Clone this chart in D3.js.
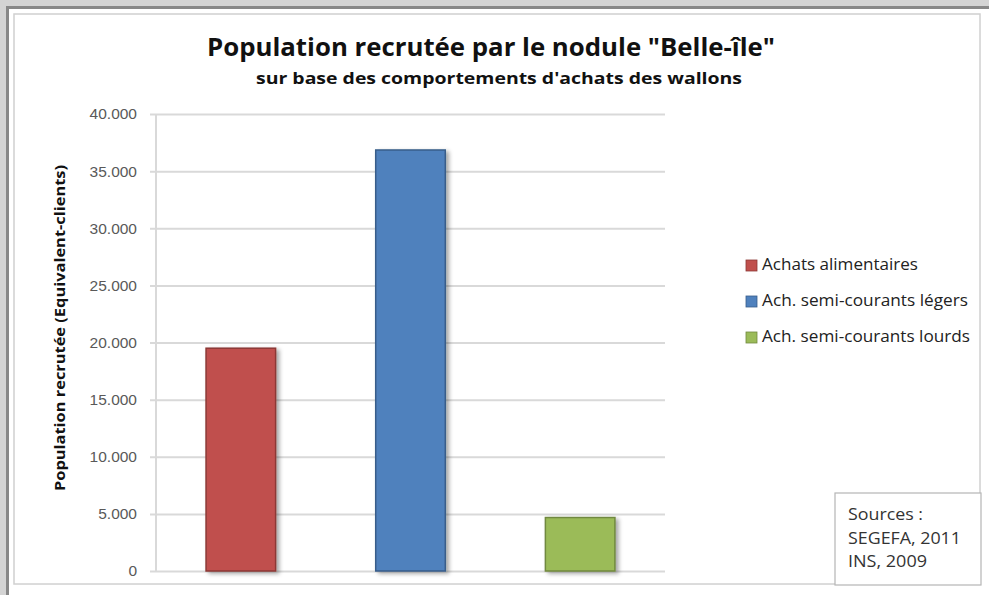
<!DOCTYPE html>
<html lang="fr">
<head>
  <meta charset="UTF-8">
  <title>Population recrutée par le nodule "Belle-île"</title>
  <script src="https://d3js.org/d3.v7.min.js"></script>
  <style>
    body { margin: 0; background: #d4d4d4; font-family: "Open Sans", sans-serif; }
    svg { display: block; }
    .tick text { fill: #595959; font-size: 15.5px; }
    .legend text { font-size: 15.5px; fill: #222; }
  </style>
</head>
<body>
  <svg id="chart" width="989" height="595"></svg>

  <script>
    const categories = ["Achats alimentaires", "Ach. semi-courants légers", "Ach. semi-courants lourds"];
    const values = [19500, 36850, 4680];
    const colors = ["#c0504d", "#4f81bd", "#9bbb59"];
    const strokes = ["#8c3836", "#385d8a", "#71893f"];
    const yTicks = [0, 5000, 10000, 15000, 20000, 25000, 30000, 35000, 40000];
    const sources = ["Sources :", "SEGEFA, 2011", "INS, 2009"];
    const legendWidths = [156, 206, 208];
    const sourceWidths = [75, 113, 79];

    const svg = d3.select("#chart");
    const margin = {left: 156, right: 665};

    // drop shadow like the office chart
    const defs = svg.append("defs");
    const f = defs.append("filter").attr("id", "shadow").attr("x", "-20%").attr("y", "-10%").attr("width", "150%").attr("height", "130%");
    f.append("feDropShadow").attr("dx", 3).attr("dy", 2).attr("stdDeviation", 2).attr("flood-color", "#000").attr("flood-opacity", 0.35);

    // frame
    svg.append("rect").attr("x", 6).attr("y", 6).attr("width", 983).attr("height", 589).attr("fill", "#888");
    svg.append("rect").attr("x", 9).attr("y", 9).attr("width", 980).attr("height", 586).attr("fill", "#fff");
    svg.append("rect").attr("x", 14).attr("y", 14).attr("width", 966).attr("height", 570)
      .attr("fill", "none").attr("stroke", "#d0d0d0").attr("stroke-width", 1.5);

    const x = d3.scaleBand().domain(categories)
      .range([margin.left, margin.right]).paddingInner(0.59).paddingOuter(0.295);
    const y = d3.scaleLinear().domain([0, 40000]).range([571, 114]);

    const fmt = d => d === 0 ? "0" : d3.format(",")(d).replace(/,/g, ".");

    // grid + y axis
    const yAxis = svg.append("g")
      .attr("transform", `translate(${margin.left},0)`)
      .call(d3.axisLeft(y).tickValues(yTicks).tickFormat(fmt).tickSize(-(margin.right - margin.left)).tickPadding(19));
    yAxis.select(".domain").remove();
    yAxis.selectAll(".tick line").attr("stroke", "#d9d9d9").attr("stroke-width", 2).attr("x1", -6);
    svg.append("line").attr("x1", margin.left).attr("x2", margin.left)
      .attr("y1", y(40000)).attr("y2", y(0)).attr("stroke", "#d9d9d9").attr("stroke-width", 2);

    // bars
    svg.append("g").selectAll("rect").data(categories).join("rect")
      .attr("x", d => x(d))
      .attr("y", (d, i) => y(values[i]))
      .attr("width", x.bandwidth())
      .attr("height", (d, i) => y(0) - y(values[i]))
      .attr("fill", (d, i) => colors[i])
      .attr("stroke", (d, i) => strokes[i])
      .attr("stroke-width", 1.5)
      .attr("filter", "url(#shadow)");

    // titles
    svg.append("text").attr("x", 491).attr("y", 56).attr("text-anchor", "middle")
      .attr("font-size", 25).attr("font-weight", "bold").attr("fill", "#111")
      .attr("textLength", 568).attr("lengthAdjust", "spacingAndGlyphs")
      .text('Population recrutée par le nodule "Belle-île"');
    svg.append("text").attr("x", 499).attr("y", 84).attr("text-anchor", "middle")
      .attr("font-size", 16.5).attr("font-weight", "bold").attr("fill", "#111")
      .attr("textLength", 486).attr("lengthAdjust", "spacingAndGlyphs")
      .text("sur base des comportements d'achats des wallons");

    // y label
    svg.append("text").attr("transform", "translate(65,328) rotate(-90)")
      .attr("text-anchor", "middle").attr("font-size", 13.5).attr("font-weight", "bold").attr("fill", "#111")
      .attr("textLength", 326).attr("lengthAdjust", "spacingAndGlyphs")
      .text("Population recrutée (Equivalent-clients)");

    // legend
    const legend = svg.append("g").attr("class", "legend");
    categories.forEach((c, i) => {
      const ly = 265 + i * 36;
      legend.append("rect").attr("x", 746).attr("y", ly - 5).attr("width", 11).attr("height", 11)
        .attr("fill", colors[i]).attr("stroke", strokes[i]).attr("stroke-width", 0.8);
      legend.append("text").attr("x", 762).attr("y", ly).attr("dy", "0.35em")
        .attr("textLength", legendWidths[i]).attr("lengthAdjust", "spacingAndGlyphs").text(c);
    });

    // sources box
    svg.append("rect").attr("x", 835).attr("y", 493).attr("width", 146).attr("height", 92)
      .attr("fill", "#fff").attr("stroke", "#b5b5b5").attr("stroke-width", 1.2);
    sources.forEach((s, i) => {
      svg.append("text").attr("x", 848).attr("y", 520 + i * 23.5)
        .attr("font-size", 16).attr("fill", "#333")
        .attr("textLength", sourceWidths[i]).attr("lengthAdjust", "spacingAndGlyphs").text(s);
    });
  </script>
</body>
</html>
